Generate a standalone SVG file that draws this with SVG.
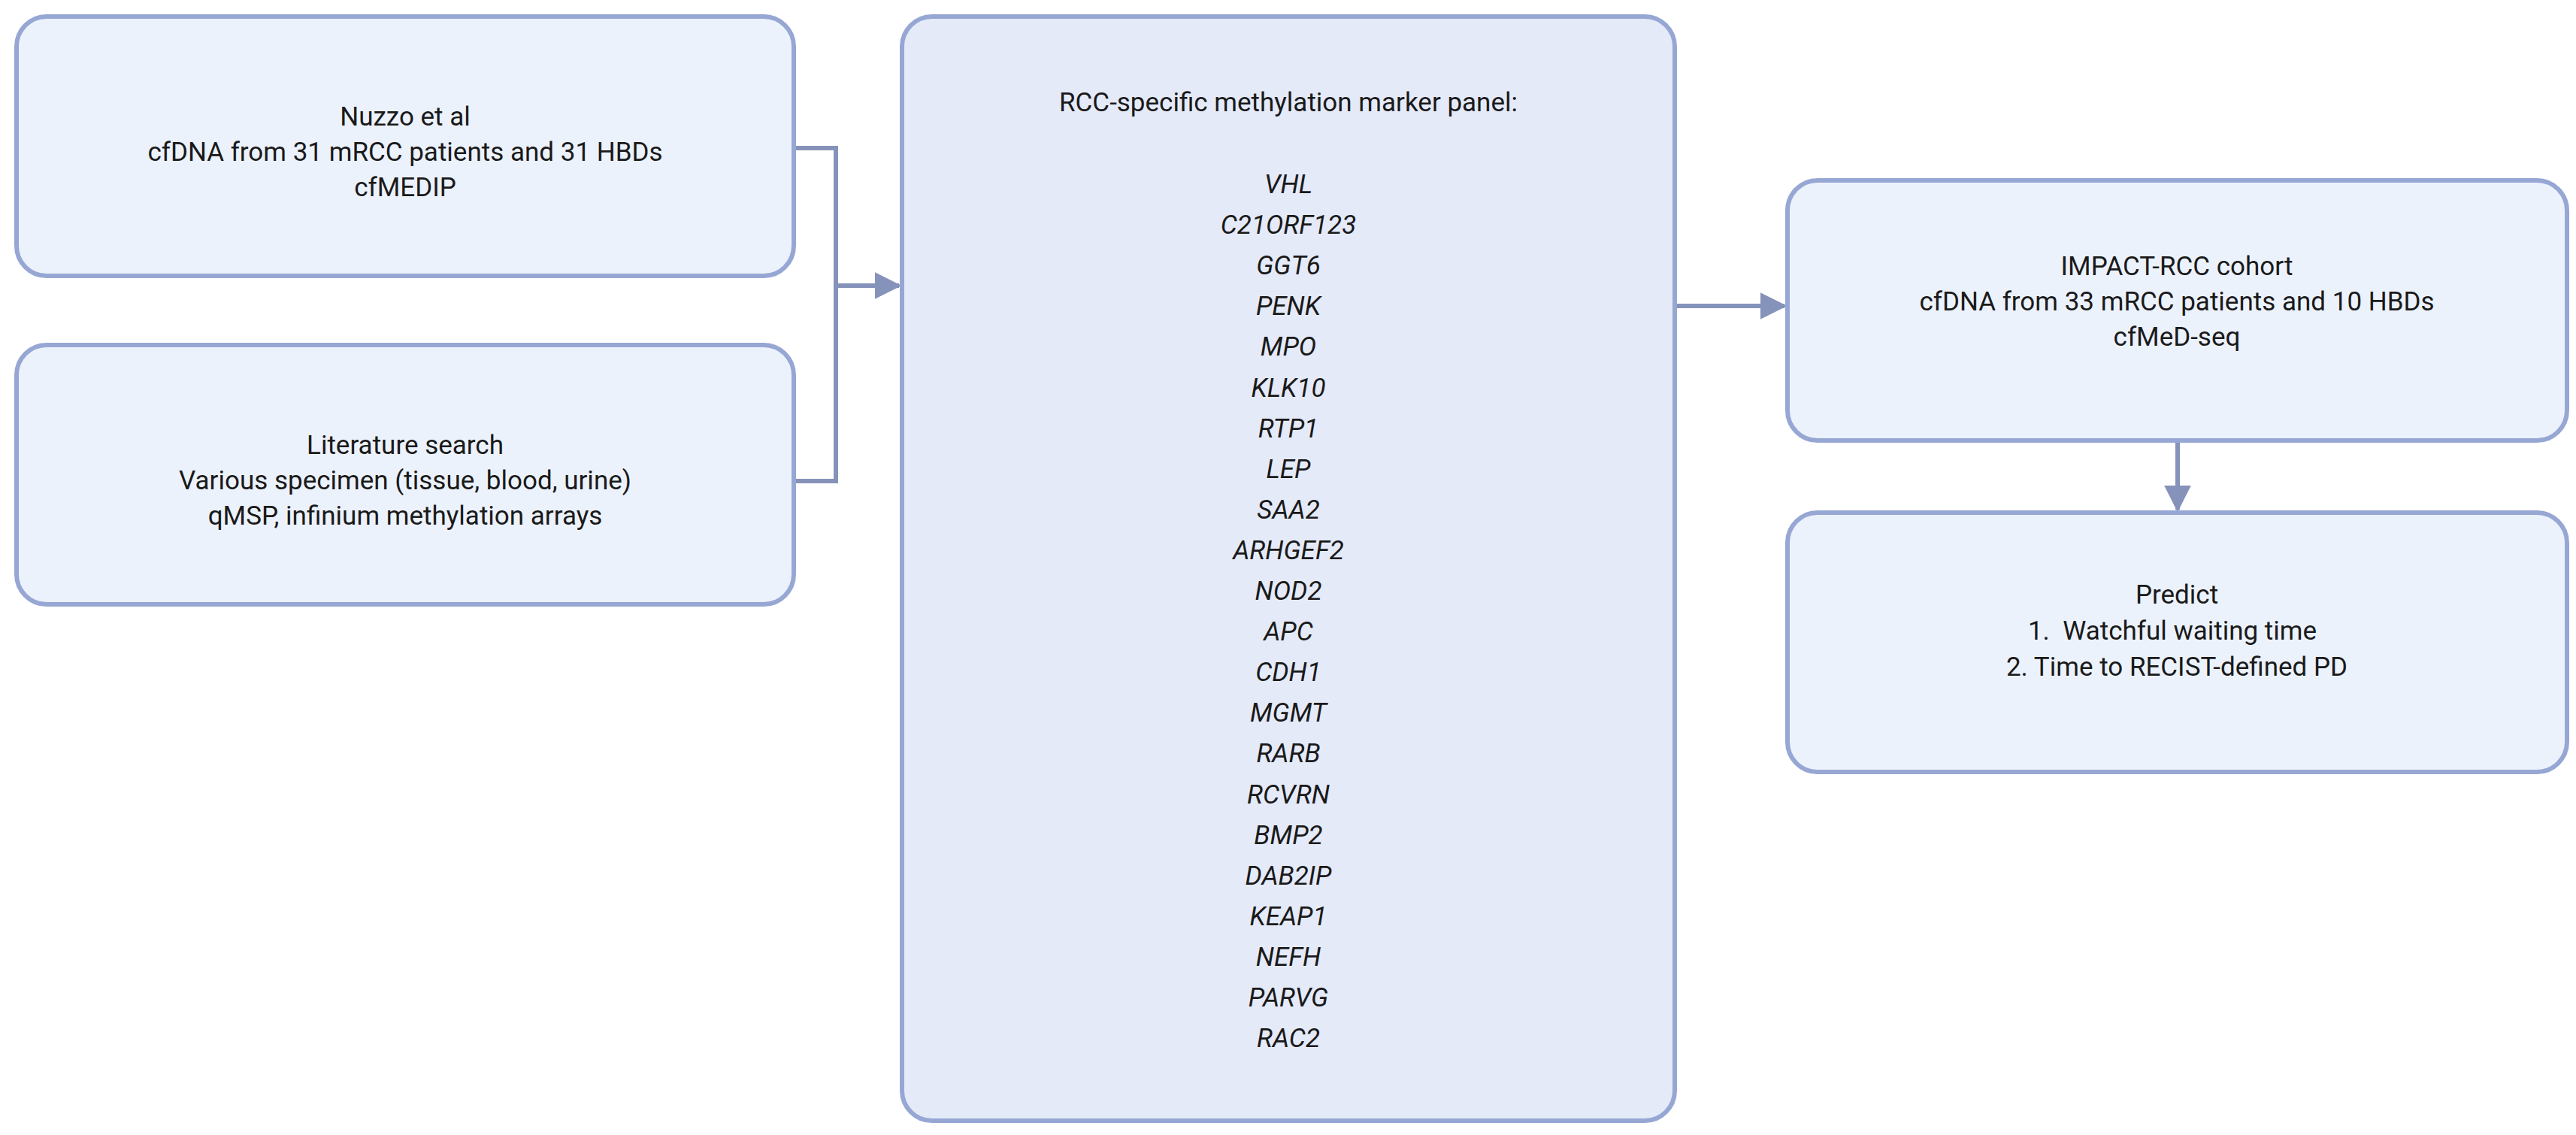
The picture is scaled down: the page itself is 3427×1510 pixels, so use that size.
<svg xmlns="http://www.w3.org/2000/svg" width="3427" height="1510" viewBox="0 0 3427 1510">
<style>
.box{fill:#ECF2FC;stroke:#97A7D4;stroke-width:6}
.big{fill:#E5EAF9}
text{font-family:Roboto,"Liberation Sans",sans-serif;font-size:35px;fill:#1a1a1a;text-anchor:middle}
.g{font-style:italic}
.c{fill:none;stroke:#8592BA;stroke-width:6}
</style>
<defs><marker id="a" markerWidth="10" markerHeight="10" refX="8" refY="5" orient="auto" markerUnits="userSpaceOnUse" viewBox="0 0 10 10"><path d="M0,0 L10,5 L0,10z" fill="#8592BA"/></marker>
<marker id="ah" viewBox="0 0 10 10" refX="9" refY="5" markerWidth="36" markerHeight="36" markerUnits="userSpaceOnUse" orient="auto"><path d="M0,0 L10,5 L0,10z" fill="#8592BA"/></marker></defs>
<g id="connectors">
<path class="c" d="M1056,197 H1112 V640 H1056"/>
<path class="c" d="M1112,380 H1196" marker-end="url(#ah)"/>
<path class="c" d="M2228,407 H2374" marker-end="url(#ah)"/>
<path class="c" d="M2897,586 V678" marker-end="url(#ah)"/>
</g>
<g id="nuzzo"><rect class="box" x="22" y="22" width="1034" height="345" rx="40"/>
<text x="539" y="167">Nuzzo et al</text><text x="539" y="214">cfDNA from 31 mRCC patients and 31 HBDs</text><text x="539" y="261">cfMEDIP</text></g>
<g id="lit"><rect class="box" x="22" y="459" width="1034" height="345" rx="40"/>
<text x="539" y="604">Literature search</text><text x="539" y="651">Various specimen (tissue, blood, urine)</text><text x="539" y="698">qMSP, infinium methylation arrays</text></g>
<g id="panel"><rect class="box big" x="1200" y="22" width="1028" height="1469" rx="40"/>
<text x="1714" y="148">RCC-specific methylation marker panel:</text>
<g class="g">
<text x="1714" y="257">VHL</text><text x="1714" y="311">C21ORF123</text><text x="1714" y="365">GGT6</text><text x="1714" y="419">PENK</text><text x="1714" y="473">MPO</text><text x="1714" y="528">KLK10</text><text x="1714" y="582">RTP1</text><text x="1714" y="636">LEP</text><text x="1714" y="690">SAA2</text><text x="1714" y="744">ARHGEF2</text><text x="1714" y="798">NOD2</text><text x="1714" y="852">APC</text><text x="1714" y="906">CDH1</text><text x="1714" y="960">MGMT</text><text x="1714" y="1014">RARB</text><text x="1714" y="1069">RCVRN</text><text x="1714" y="1123">BMP2</text><text x="1714" y="1177">DAB2IP</text><text x="1714" y="1231">KEAP1</text><text x="1714" y="1285">NEFH</text><text x="1714" y="1339">PARVG</text><text x="1714" y="1393">RAC2</text>
</g></g>
<g id="impact"><rect class="box" x="2378" y="240" width="1037" height="346" rx="40"/>
<text x="2896" y="366">IMPACT-RCC cohort</text><text x="2896" y="413">cfDNA from 33 mRCC patients and 10 HBDs</text><text x="2896" y="460">cfMeD-seq</text></g>
<g id="predict"><rect class="box" x="2378" y="682" width="1037" height="345" rx="40"/>
<text x="2896" y="803">Predict</text><text x="2890" y="851" xml:space="preserve">1.  Watchful waiting time</text><text x="2896" y="899">2. Time to RECIST-defined PD</text></g>
</svg>
